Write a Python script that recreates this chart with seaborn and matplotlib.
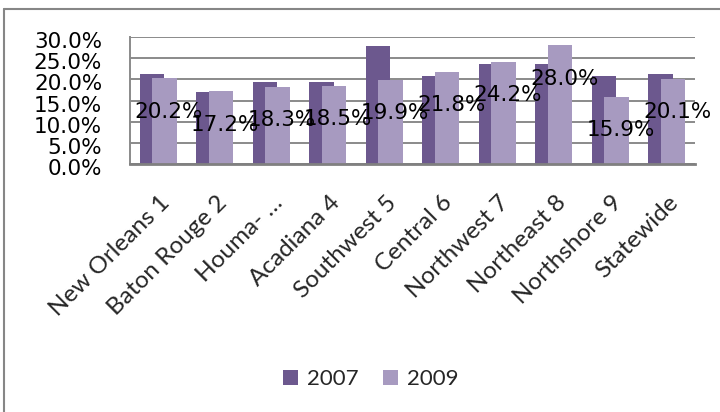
import numpy as np
import pandas as pd
import matplotlib
matplotlib.use("Agg")
import matplotlib.pyplot as plt
import matplotlib.transforms as mtransforms
from matplotlib.lines import Line2D
from matplotlib.ticker import PercentFormatter, MultipleLocator
import seaborn as sns

# Regions and yearly rates
regions = ["New Orleans 1", "Baton Rouge 2", "Houma- \u2026", "Acadiana 4", "Southwest 5",
           "Central 6", "Northwest 7", "Northeast 8", "Northshore 9", "Statewide"]
rate_2007 = [0.212, 0.171, 0.193, 0.193, 0.279, 0.208, 0.236, 0.236, 0.208, 0.213]
rate_2009 = [0.202, 0.172, 0.183, 0.185, 0.199, 0.218, 0.242, 0.280, 0.159, 0.201]
years = ["2007", "2009"]

colors = {"2007": "#6C588E", "2009": "#A79AC0"}
grid_gray = "#8A8A8A"

# Long-form table; bars of the two years overlap inside each group
shift = 0.11
rows = []
for i, r in enumerate(regions):
    rows.append({"region": r, "year": "2007", "rate": rate_2007[i], "pos": i - shift})
    rows.append({"region": r, "year": "2009", "rate": rate_2009[i], "pos": i + shift})
df = pd.DataFrame(rows)

sns.set_theme(style="white")
plt.rcParams["font.family"] = ["DejaVu Sans"]

fig = plt.figure(figsize=(7.2, 4.12), dpi=100)
ax = fig.add_axes([130 / 720, 1 - 164 / 412, 565 / 720, 127 / 412])

for yr in years:
    sub = df[df["year"] == yr]
    sns.barplot(data=sub, x="pos", y="rate", native_scale=True, width=0.44,
                color=colors[yr], saturation=1, errorbar=None, label=yr,
                linewidth=0, ax=ax)

# Value labels for the 2009 series
for i, v in enumerate(rate_2009):
    ax.annotate(f"{v * 100:.1f}%", xy=(i + shift, v), xytext=(3, -24),
                textcoords="offset points", ha="center", va="center",
                fontsize=15.5, color="black", zorder=5)

ax.set_xlim(-0.5, len(regions) - 0.5)
ax.set_ylim(0, 0.30)
ax.yaxis.set_major_locator(MultipleLocator(0.05))
ax.yaxis.set_major_formatter(PercentFormatter(1.0, decimals=1))
ax.grid(axis="y", color=grid_gray, linewidth=1.4)
ax.set_axisbelow(True)
ax.set_xlabel("")
ax.set_ylabel("")

for side in ["top", "right"]:
    ax.spines[side].set_visible(False)
ax.spines["left"].set_color(grid_gray)
ax.spines["left"].set_linewidth(1.4)
ax.spines["bottom"].set_color("#808080")
ax.spines["bottom"].set_linewidth(2.0)
ax.spines["bottom"].set_zorder(4)

ax.tick_params(axis="y", length=0, pad=20, labelsize=15.5, labelcolor="black")
for lab in ax.get_yticklabels():
    lab.set_transform(lab.get_transform() +
                      mtransforms.ScaledTranslation(0, -0.03, fig.dpi_scale_trans))

ax.set_xticks(range(len(regions)))
ax.set_xticklabels(regions, rotation=45, ha="right", va="top",
                   rotation_mode="anchor", fontsize=17.5, family=["Lato", "DejaVu Sans"])
ax.tick_params(axis="x", length=0, pad=20)
for lab in ax.get_xticklabels():
    lab.set_transform(lab.get_transform() +
                      mtransforms.ScaledTranslation(0.01, 0, fig.dpi_scale_trans))

# Legend below the category labels
handles, labels = ax.get_legend_handles_labels()
if ax.get_legend() is not None:
    ax.get_legend().remove()
fig.legend(handles, labels, loc="center", bbox_to_anchor=(371 / 720, 1 - 379 / 412),
           ncol=2, frameon=False, handlelength=0.68, handleheight=0.68,
           handletextpad=0.4, columnspacing=1.1,
           prop={"family": ["Lato", "DejaVu Sans"], "size": 16})

# Chart-area border along the top and left edges
fig.add_artist(Line2D([3.5 / 720, 3.5 / 720], [0, 1 - 9 / 412],
                      transform=fig.transFigure, color="#868686", linewidth=1.5))
fig.add_artist(Line2D([3.5 / 720, 1], [1 - 9 / 412, 1 - 9 / 412],
                      transform=fig.transFigure, color="#868686", linewidth=1.5))

fig.savefig("out.png", dpi=100)
